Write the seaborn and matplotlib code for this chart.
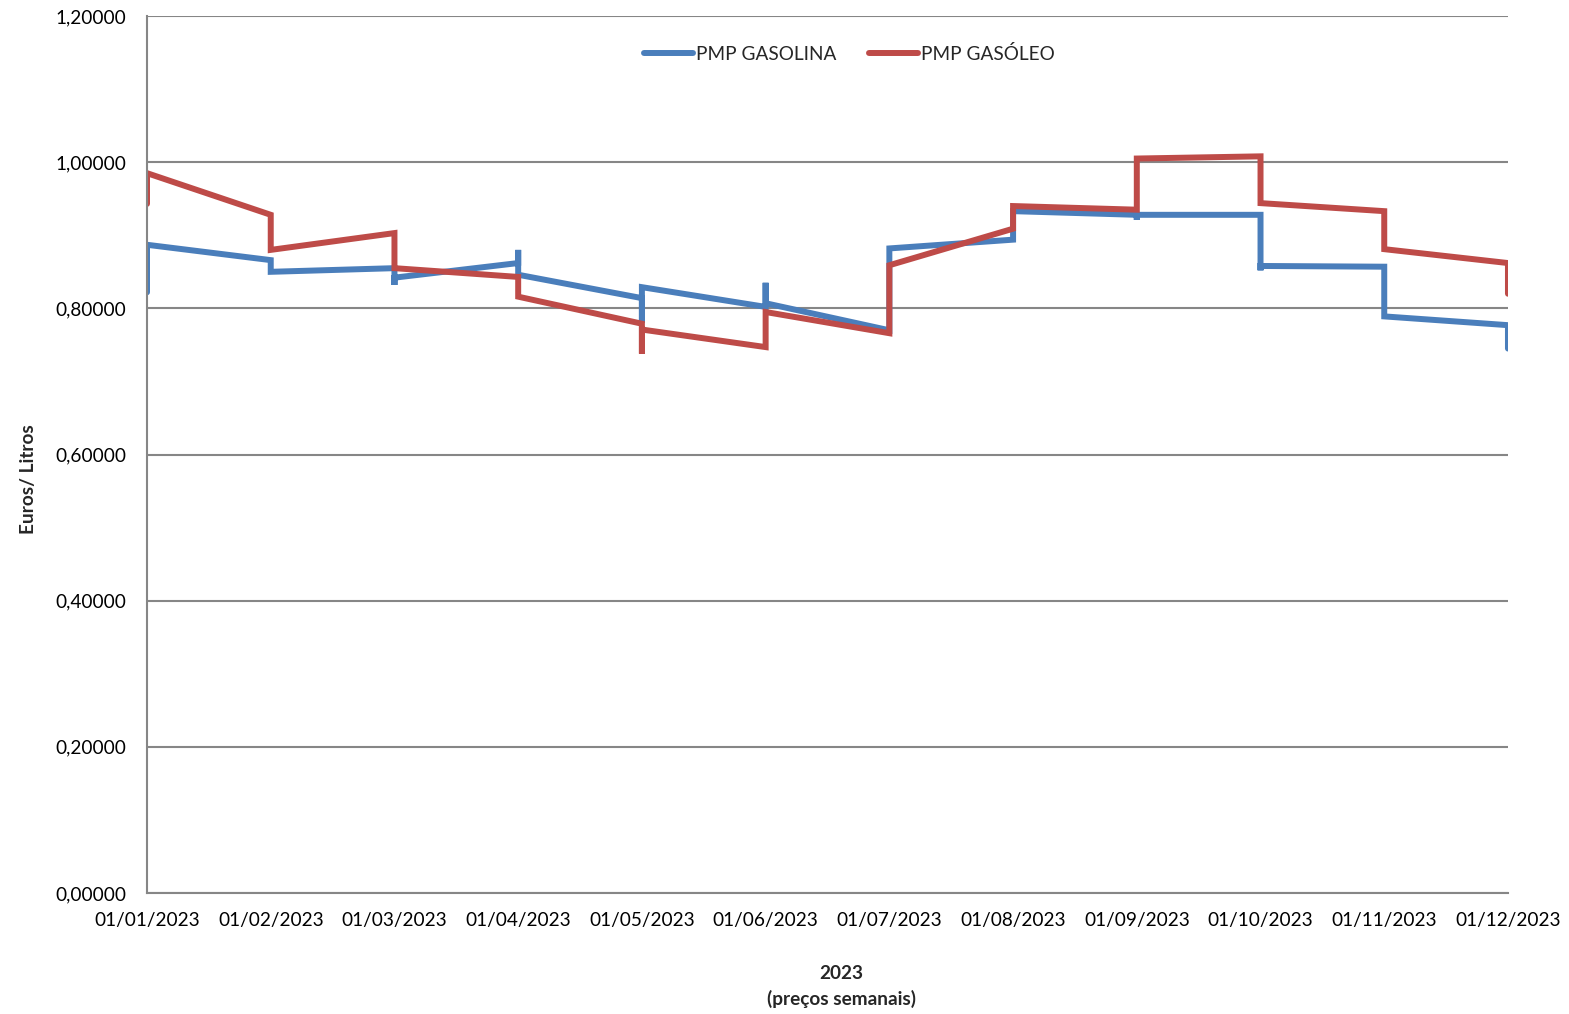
import matplotlib
matplotlib.use('Agg')
import matplotlib.pyplot as plt
import seaborn as sns
import pandas as pd

# month ticks (Excel date axis, weekly prices grouped per month)
months = ['01/01/2023', '01/02/2023', '01/03/2023', '01/04/2023', '01/05/2023', '01/06/2023',
          '01/07/2023', '01/08/2023', '01/09/2023', '01/10/2023', '01/11/2023', '01/12/2023']

# weekly values falling on each month, in order
gasolina = [[0.822, 0.887], [0.866, 0.850], [0.855, 0.832, 0.842], [0.862, 0.880, 0.846],
            [0.814, 0.780, 0.829], [0.802, 0.835, 0.807], [0.770, 0.882], [0.894, 0.933],
            [0.928, 0.921, 0.928], [0.928, 0.852, 0.858], [0.857, 0.789], [0.777, 0.745]]
gasoleo = [[0.943, 0.985], [0.928, 0.880], [0.903, 0.855], [0.843, 0.816],
           [0.779, 0.738, 0.771], [0.747, 0.795], [0.766, 0.859], [0.909, 0.940],
           [0.935, 1.005], [1.008, 0.958, 0.944], [0.933, 0.881], [0.862, 0.820]]

series_names = ['PMP GASOLINA', 'PMP GASÓLEO']
colors = ['#4A7EBB', '#BE4B48']

rows = []
for name, vals in zip(series_names, [gasolina, gasoleo]):
    for m, week_vals in enumerate(vals):
        for v in week_vals:
            rows.append({'mes': m, 'preco': v, 'serie': name})
df = pd.DataFrame(rows)

sns.set_style('white')
plt.rcParams['font.family'] = ['Lato', 'DejaVu Sans']

fig = plt.figure(figsize=(15.69, 10.14), dpi=100)
ax = fig.add_axes([0.0937, 0.1193, 0.8674, 0.8649])

sns.lineplot(data=df, x='mes', y='preco', hue='serie', palette=colors, sort=False,
             estimator=None, linewidth=4.3, ax=ax, solid_capstyle='round',
             solid_joinstyle='miter')

fs = 13.7
ax.set_xlim(0, len(months) - 1)
ax.set_ylim(0, 1.2)
ax.set_xticks(range(len(months)))
ax.set_xticklabels(months, fontsize=fs)
yt = [0, 0.2, 0.4, 0.6, 0.8, 1.0, 1.2]
ax.set_yticks(yt)
ax.set_yticklabels([f'{v:.5f}'.replace('.', ',') for v in yt], fontsize=fs)
ax.yaxis.grid(True, color='#868686', linewidth=1.5)
ax.set_axisbelow(True)

for s in ['top', 'right']:
    ax.spines[s].set_visible(False)
for s in ['left', 'bottom']:
    ax.spines[s].set_color('#868686')
    ax.spines[s].set_linewidth(1.5)
ax.tick_params(axis='both', direction='out', length=6, width=1.5, color='#868686',
               labelcolor='black')
ax.tick_params(axis='x', pad=8)
ax.tick_params(axis='y', pad=9)

ax.set_xlabel('2023\n(preços semanais)', fontsize=fs, fontweight='bold', linespacing=1.5)
ax.xaxis.set_label_coords(0.51, -0.082, transform=ax.transAxes)
ax.xaxis.label.set_va('top')
ax.set_ylabel('Euros/ Litros', fontsize=fs, fontweight='bold')
ax.yaxis.set_label_coords(-0.081, 0.472)

leg = ax.legend(loc='upper center', bbox_to_anchor=(0.516, 1.0), ncol=2, frameon=False,
                fontsize=fs, handlelength=2.6, handletextpad=0.15, columnspacing=1.7,
                borderaxespad=1.1)
for h in leg.get_lines():
    h.set_linewidth(4.3)

fig.savefig('out.png', dpi=100)
